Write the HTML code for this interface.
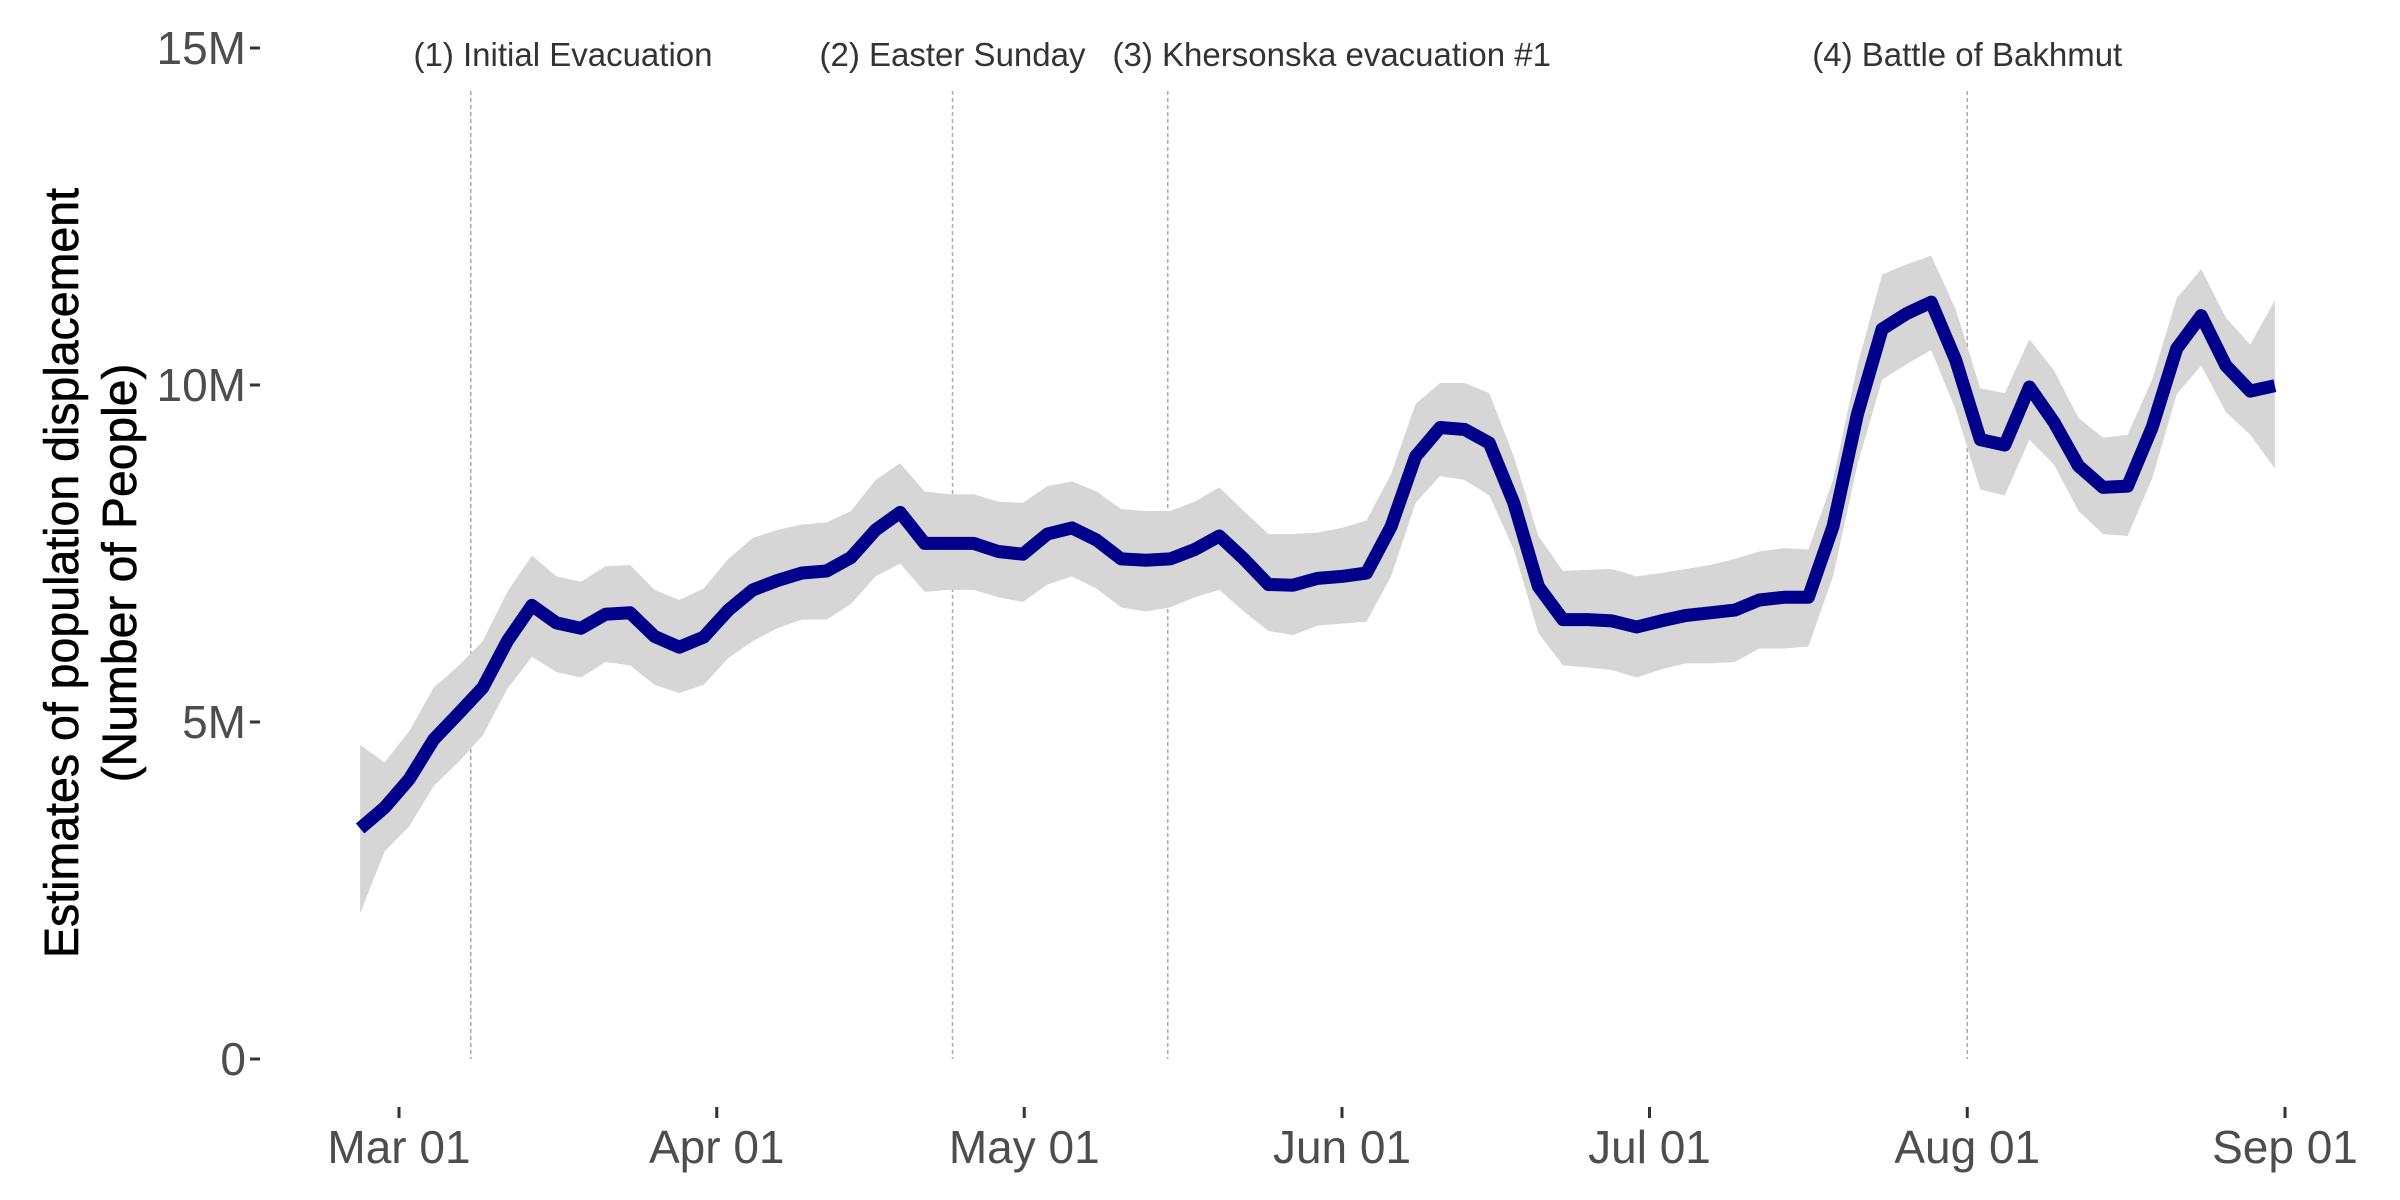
<!DOCTYPE html>
<html><head><meta charset="utf-8"><style>
html,body{margin:0;padding:0;background:#fff}
svg{display:block}
.tick{font-family:"Liberation Sans Narrow","Liberation Sans",sans-serif;fill:#4d4d4d;font-size:46px}
.ann{font-family:"Liberation Sans",sans-serif;fill:#333;font-size:33px}
.ttl{font-family:"Liberation Sans Narrow","Liberation Sans",sans-serif;fill:#000;font-size:48px}
</style></head><body>
<svg id="chart" width="2400" height="1200" viewBox="0 0 2400 1200" xmlns="http://www.w3.org/2000/svg">
<g id="grid"></g>
<g id="band"></g>
<g id="line"></g>
<g id="yaxis"></g>
<g id="xaxis"></g>
<g id="anns"></g>
<g>
<text class="ttl" text-anchor="middle" transform="translate(78,573) rotate(-90)" textLength="770" lengthAdjust="spacingAndGlyphs" stroke="#000" stroke-width="0.6">Estimates of population displacement</text>
<text class="ttl" text-anchor="middle" transform="translate(136,573) rotate(-90)" stroke="#000" stroke-width="0.6">(Number of People)</text>
</g>
</svg>
<script>
// Values in millions
const estimate = [3.42,3.73,4.15,4.74,5.12,5.51,6.20,6.73,6.47,6.39,6.60,6.62,6.27,6.11,6.26,6.66,6.96,7.10,7.21,7.24,7.44,7.85,8.11,7.65,7.65,7.65,7.53,7.49,7.79,7.88,7.70,7.42,7.40,7.42,7.56,
7.76,7.42,7.04,7.03,7.13,7.16,7.21,7.90,8.94,9.37,9.34,9.14,8.25,7.01,6.52,6.52,6.50,6.41,6.50,6.58,6.62,6.66,6.81,6.85,6.85,7.90,9.57,10.83,11.06,11.23,10.37,9.19,9.11,9.97,9.45,8.80,8.48,8.50,9.37,10.54,11.03,10.29,9.91,9.99];
const upper = [4.66,4.40,4.86,5.51,5.83,6.20,6.93,7.47,7.16,7.08,7.31,7.33,6.96,6.81,6.98,7.42,7.73,7.85,7.93,7.96,8.13,8.59,8.84,8.42,8.38,8.38,8.27,8.25,8.50,8.57,8.42,8.16,8.13,8.13,8.27,
8.48,8.13,7.79,7.79,7.81,7.88,7.99,8.68,9.72,10.03,10.03,9.88,8.94,7.76,7.24,7.26,7.27,7.16,7.21,7.27,7.33,7.42,7.53,7.58,7.56,8.59,10.29,11.64,11.79,11.92,11.12,9.95,9.88,10.68,10.22,9.51,9.22,9.26,10.08,11.29,11.72,11.00,10.60,11.26];
const lower = [2.16,3.08,3.45,4.05,4.40,4.80,5.49,5.97,5.74,5.66,5.89,5.84,5.55,5.43,5.55,5.95,6.20,6.39,6.52,6.52,6.75,7.16,7.35,6.93,6.96,6.96,6.85,6.78,7.04,7.16,6.98,6.70,6.64,6.70,6.85,
6.96,6.64,6.35,6.29,6.43,6.46,6.49,7.16,8.25,8.65,8.59,8.36,7.56,6.32,5.84,5.81,5.77,5.66,5.78,5.87,5.87,5.89,6.09,6.09,6.12,7.16,8.82,10.08,10.31,10.52,9.63,8.45,8.36,9.19,8.82,8.13,7.79,7.76,8.61,9.86,10.29,9.60,9.26,8.76];
// days since Mar 01 for first point, and spacing between points (days)
const firstDay = -3.8;
const stepDays = 2.395;
const xTickDays = [0,31,61,92,122,153,184];
const xTickLabels = ["Mar 01","Apr 01","May 01","Jun 01","Jul 01","Aug 01","Sep 01"];
const yTicks = [0,5,10,15];
const yTickLabels = ["0","5M","10M","15M"];
const eventDays = [7,54,75,153];
const eventLabels = ["(1) Initial Evacuation","(2) Easter Sunday","(3) Khersonska evacuation #1","(4) Battle of Bakhmut"];
const eventLabelDays = [16,54,91,153];

const NS="http://www.w3.org/2000/svg";
const xs = d => 399 + d*10.25;
const ys = v => 1059 - v*67.4;
function mk(tag, attrs, parent){const e=document.createElementNS(NS,tag);for(const k in attrs)e.setAttribute(k,attrs[k]);parent.appendChild(e);return e;}
const dayOf = i => firstDay + i*stepDays;

const grid=document.getElementById('grid');
eventDays.forEach((d,i)=>{
  const l=mk('line',{x1:xs(d),x2:xs(d),y1:91,y2:1059,stroke:'#aaaaaa','stroke-width':1.5,'stroke-dasharray':'4,3'},grid);
  
  
});
let pts=[];
upper.forEach((v,i)=>pts.push(xs(dayOf(i)).toFixed(1)+','+ys(v).toFixed(1)));
for(let i=lower.length-1;i>=0;i--)pts.push(xs(dayOf(i)).toFixed(1)+','+ys(lower[i]).toFixed(1));
const b=mk('polygon',{points:pts.join(' '),fill:'#d6d6d6'},document.getElementById('band'));


const lp=estimate.map((v,i)=>xs(dayOf(i)).toFixed(1)+','+ys(v).toFixed(1)).join(' ');
const ln=mk('polyline',{points:lp,fill:'none',stroke:'#00008b','stroke-width':13,'stroke-linejoin':'round'},document.getElementById('line'));


const ya=document.getElementById('yaxis');
yTicks.forEach((v,i)=>{
  const t=mk('line',{x1:250,x2:260,y1:ys(v),y2:ys(v),stroke:'#333','stroke-width':3},ya);
  
  
  const tx=mk('text',{x:246,y:ys(v)+16,'text-anchor':'end',class:'tick'},ya);
  tx.textContent=yTickLabels[i];
  
  
});
const xa=document.getElementById('xaxis');
xTickDays.forEach((d,i)=>{
  const t=mk('line',{x1:xs(d),x2:xs(d),y1:1107,y2:1118,stroke:'#333','stroke-width':3},xa);
  
  
  const tx=mk('text',{x:xs(d),y:1163,'text-anchor':'middle',class:'tick'},xa);
  tx.textContent=xTickLabels[i];
  
  
});
const an=document.getElementById('anns');
eventLabels.forEach((s,i)=>{
  const tx=mk('text',{x:xs(eventLabelDays[i]),y:66,'text-anchor':'middle',class:'ann'},an);
  tx.textContent=s;
  
  
});
</script>
</body></html>
